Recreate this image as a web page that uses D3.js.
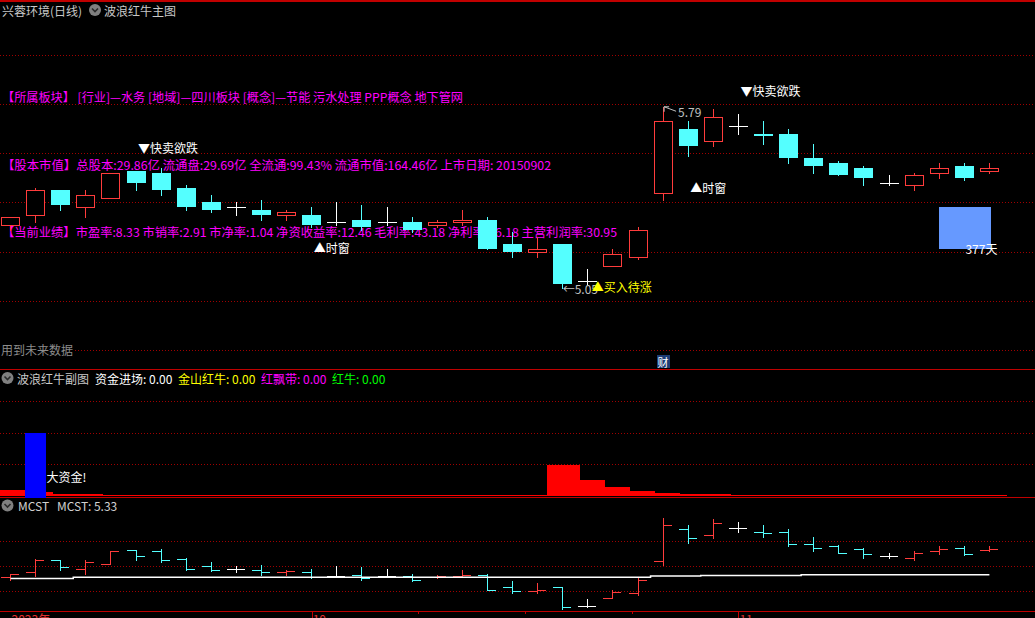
<!DOCTYPE html>
<html><head><meta charset="utf-8">
<script src="https://cdn.jsdelivr.net/npm/d3@7"></script>
<style>
html,body{margin:0;padding:0;background:#000;overflow:hidden}
svg{display:block}
text{font-family:"Noto Sans CJK SC","Noto Sans",sans-serif;font-size:12px}
</style></head><body>
<svg id="c" width="1035" height="618"></svg>
<script>
// ---- data ----
const opens  = [5.31,5.35,5.45,5.38,5.42,5.53,5.52,5.46,5.40,5.38,5.37,5.35,5.35,5.32,5.33,5.32,5.32,5.31,5.32,5.33,5.23,5.20,5.23,5.08,5.14,5.18,5.44,5.70,5.65,5.71,5.68,5.68,5.58,5.56,5.54,5.48,5.47,5.52,5.55,5.53];
const highs  = [5.34,5.46,5.45,5.45,5.52,5.53,5.54,5.47,5.43,5.40,5.41,5.37,5.38,5.40,5.39,5.38,5.34,5.33,5.37,5.34,5.28,5.26,5.23,5.13,5.21,5.30,5.79,5.73,5.78,5.76,5.73,5.70,5.64,5.57,5.55,5.51,5.52,5.56,5.56,5.56];
const lows   = [5.29,5.32,5.37,5.34,5.42,5.45,5.43,5.37,5.36,5.35,5.33,5.33,5.30,5.31,5.29,5.31,5.28,5.30,5.31,5.21,5.18,5.18,5.05,5.07,5.14,5.17,5.41,5.59,5.63,5.68,5.64,5.56,5.52,5.51,5.47,5.47,5.45,5.50,5.49,5.52];
const closes = [5.34,5.45,5.39,5.43,5.52,5.48,5.45,5.38,5.37,5.38,5.35,5.36,5.31,5.32,5.30,5.32,5.29,5.32,5.33,5.21,5.20,5.21,5.07,5.08,5.19,5.29,5.73,5.63,5.75,5.71,5.67,5.58,5.55,5.51,5.50,5.48,5.51,5.54,5.50,5.54];
const mcstLine = [5.30,5.30,5.30,5.31,5.31,5.31,5.31,5.31,5.31,5.31,5.31,5.31,5.31,5.31,5.31,5.31,5.31,5.31,5.31,5.31,5.31,5.31,5.31,5.31,5.31,5.31,5.32,5.32,5.325,5.325,5.325,5.325,5.33,5.33,5.33,5.33,5.33,5.33,5.33,5.33];
const fundRed  = [0.17,0.105,0.05,0.05,0,0,0,0,0,0,0,0,0,0,0,0,0,0,0,0,0,0,0.97,0.49,0.265,0.14,0.075,0.04,0.04,0,0,0,0,0,0,0,0,0,0,0];
const fundBlue = [0,2.0,0,0,0,0,0,0,0,0,0,0,0,0,0,0,0,0,0,0,0,0,0,0,0,0,0,0,0,0,0,0,0,0,0,0,0,0,0,0];
const priceTicks = [6.0,5.8,5.6,5.4,5.2,5.0,4.8];
const subTicks = [1,2,3];
const mcstTicks = [5.6,5.4,5.2];
const dateLabels = [{i:0,t:"2023年"},{i:12,t:"10"},{i:29,t:"11"}];
const sellIdx = [5,29];
const timeMarks = [{i:12,p:5.215},{i:27,p:5.463}];
const buyMark = {i:23,p:5.056};
const lowIdx = 22, highIdx = 26, caiIdx = 26;
const boxMark = {from:37,to:39,top:5.38,bottom:5.21,label:"377天"};
const infoLines = [
  "【所属板块】 [行业]—水务 [地域]—四川板块 [概念]—节能 污水处理 PPP概念 地下管网",
  "【股本市值】总股本:29.86亿 流通盘:29.69亿 全流通:99.43% 流通市值:164.46亿 上市日期: 20150902",
  "【当前业绩】市盈率:8.33 市销率:2.91 市净率:1.04 净资收益率:12.46 毛利率:43.18 净利率:26.18 主营利润率:30.95"
];
const infoPrices = [5.83, 5.556, 5.283];
const infoWidths = [461, 549, 615];

// ---- setup ----
const W = 1035;
const RED = "#ff3c3c", CYAN = "#54ffff", WHITE = "#ffffff", GRID = "#a00000", SEP = "#c00000";
const svg = d3.select("#c");
svg.append("rect").attr("width",W).attr("height",618).attr("fill","#000");
const idx = d3.range(opens.length);
const x = d3.scaleBand().domain(idx).range([-2.05, 1001.95]);
const cx = i => x(i) + x.bandwidth()/2;
const bx = i => Math.round(cx(i) - 9.5);
const yMain = d3.scaleLinear().domain([5.8, 5.0]).range([104.3, 300.7]);
const ySub = d3.scaleLinear().domain([0, 3]).range([495.3, 401.4]);
const yM = d3.scaleLinear().domain([5.8, 5.2]).range([516.8, 590.8]);
const R = v => Math.round(v);

// grids
function grid(vals, sc){
  svg.append("g").selectAll("line").data(vals).join("line")
    .attr("x1",0).attr("x2",W)
    .attr("y1",d=>R(sc(d))+0.5).attr("y2",d=>R(sc(d))+0.5)
    .attr("stroke",GRID).attr("stroke-dasharray","1,2");
}
grid(priceTicks, yMain); grid(subTicks, ySub); grid(mcstTicks, yM);

// separators
svg.append("rect").attr("x",0).attr("y",0).attr("width",W).attr("height",2).attr("fill",SEP);
[369.5, 497.5, 611.5].forEach(y=>svg.append("line").attr("x1",0).attr("x2",W).attr("y1",y).attr("y2",y).attr("stroke",SEP));

// title
function icon(cxp, cyp){
  svg.append("circle").attr("cx",cxp).attr("cy",cyp).attr("r",6).attr("fill","#808080");
  svg.append("path").attr("d",`M${cxp-3},${cyp-1.5}L${cxp},${cyp+1.5}L${cxp+3},${cyp-1.5}`).attr("fill","none").attr("stroke","#2a2a2a").attr("stroke-width",1.6);
}
svg.append("text").attr("x",2).attr("y",10).attr("dominant-baseline","central").attr("fill","#c8c8c8").text("兴蓉环境(日线)");
icon(95,10);
svg.append("text").attr("x",104).attr("y",10).attr("dominant-baseline","central").attr("fill","#c8c8c8").text("波浪红牛主图");

// info lines
svg.append("g").selectAll("text").data(infoLines).join("text")
  .attr("x",2).attr("y",(d,k)=>yMain(infoPrices[k])).attr("dominant-baseline","central")
  .attr("fill","#ff00ff").attr("textLength",(d,k)=>infoWidths[k]).attr("lengthAdjust","spacingAndGlyphs")
  .text(d=>d);

// candles
const candles = idx.map(i=>({i,o:opens[i],h:highs[i],l:lows[i],c:closes[i]}));
const col = d => d.c > d.o ? RED : (d.c < d.o ? CYAN : WHITE);
const cg = svg.append("g").attr("shape-rendering","crispEdges");
cg.selectAll("line.w").data(candles).join("line")
  .attr("x1",d=>bx(d.i)+9.5).attr("x2",d=>bx(d.i)+9.5)
  .attr("y1",d=>R(yMain(d.h))).attr("y2",d=>R(yMain(d.l))+1)
  .attr("stroke",col);
cg.selectAll("rect.up").data(candles.filter(d=>d.c>d.o)).join("rect")
  .attr("x",d=>bx(d.i)+0.5).attr("width",18)
  .attr("y",d=>R(yMain(d.c))+0.5).attr("height",d=>Math.max(1,R(yMain(d.o))-R(yMain(d.c))))
  .attr("fill","#000").attr("stroke",RED);
cg.selectAll("rect.dn").data(candles.filter(d=>d.c<d.o)).join("rect")
  .attr("x",d=>bx(d.i)).attr("width",19)
  .attr("y",d=>R(yMain(d.o))).attr("height",d=>Math.max(1,R(yMain(d.c))-R(yMain(d.o))))
  .attr("fill",CYAN);
cg.selectAll("line.dj").data(candles.filter(d=>d.c===d.o)).join("line")
  .attr("x1",d=>bx(d.i)).attr("x2",d=>bx(d.i)+19)
  .attr("y1",d=>R(yMain(d.o))+0.5).attr("y2",d=>R(yMain(d.o))+0.5)
  .attr("stroke",WHITE);

// annotations main
svg.append("g").selectAll("text").data(sellIdx).join("text")
  .attr("x",i=>cx(i)+2).attr("y",i=>yMain(highs[i])-18).attr("fill","#fff").text("▼快卖欲跌");
svg.append("g").selectAll("text").data(timeMarks).join("text")
  .attr("x",d=>cx(d.i)+2).attr("y",d=>yMain(d.p)).attr("dominant-baseline","central").attr("fill","#fff").text("▲时窗");
// low label
const yl = yMain(lows[lowIdx]);
svg.append("text").attr("x",cx(lowIdx)).attr("y",yl).attr("dominant-baseline","central").attr("fill","#c0c0c0")
  .text("←" + lows[lowIdx].toFixed(2));
svg.append("text").attr("x",cx(buyMark.i)+4).attr("y",yMain(buyMark.p)).attr("dominant-baseline","central")
  .attr("fill","#ffff00").text("▲买入待涨");
// high label
const hx = cx(highIdx)+1, hy = yMain(highs[highIdx]);
svg.append("path").attr("d",`M${hx},${hy}L${hx+12},${hy+4.5}M${hx},${hy}L${hx+5},${hy}M${hx},${hy}L${hx},${hy+5}`)
  .attr("stroke","#c0c0c0").attr("fill","none");
svg.append("text").attr("x",hx+14).attr("y",hy+4.5).attr("dominant-baseline","central").attr("fill","#c0c0c0")
  .text(highs[highIdx].toFixed(2));
// box
svg.append("rect").attr("x",R(cx(boxMark.from))).attr("y",R(yMain(boxMark.top)))
  .attr("width",R(cx(boxMark.to)+2)-R(cx(boxMark.from))).attr("height",R(yMain(boxMark.bottom))-R(yMain(boxMark.top)))
  .attr("fill","#6699ff");
svg.append("text").attr("x",cx(boxMark.to)+8).attr("y",yMain(boxMark.bottom)-1).attr("dominant-baseline","central")
  .attr("text-anchor","end").attr("fill","#fff").text(boxMark.label);
// future-data note (black backing hides the dotted grid behind it)
svg.append("rect").attr("x",0).attr("y",342).attr("width",74).attr("height",14).attr("fill","#000");
svg.append("text").attr("x",1).attr("y",349).attr("dominant-baseline","central").attr("fill","#8c8c8c").text("用到未来数据");
// 财 icon
svg.append("rect").attr("x",R(cx(caiIdx))-6).attr("y",355).attr("width",13).attr("height",13).attr("fill","#1c3c74");
svg.append("text").attr("x",cx(caiIdx)).attr("y",362).attr("dominant-baseline","central").attr("text-anchor","middle")
  .attr("fill","#fff").style("font-size","11px").text("财");

// ---- sub panel ----
icon(7.5,378);
const sh = [
  {t:"波浪红牛副图",x:17,c:"#c8c8c8"},
  {t:"资金进场: 0.00",x:95,c:"#ffffff"},
  {t:"金山红牛: 0.00",x:178,c:"#ffff00"},
  {t:"红飘带: 0.00",x:261,c:"#ff00ff"},
  {t:"红牛: 0.00",x:332,c:"#00ff00"}
];
svg.append("g").selectAll("text").data(sh).join("text").attr("x",d=>d.x).attr("y",378)
  .attr("dominant-baseline","central").attr("fill",d=>d.c).text(d=>d.t);
const sg = svg.append("g").attr("shape-rendering","crispEdges");
sg.selectAll("rect.r").data(idx).join("rect")
  .attr("x",i=>cx(i)-15.7).attr("width",33)
  .attr("y",i=>Math.min(495,R(ySub(fundRed[i])))).attr("height",i=>496-Math.min(495,R(ySub(fundRed[i]))))
  .attr("fill","#ff0000");
sg.selectAll("rect.b").data(idx.filter(i=>fundBlue[i]>0)).join("rect")
  .attr("x",i=>cx(i)-10.5).attr("width",21)
  .attr("y",i=>R(ySub(fundBlue[i]))).attr("height",i=>498-R(ySub(fundBlue[i])))
  .attr("fill","#0000ff");
svg.append("text").attr("x",cx(1)+11).attr("y",ySub(0.6)).attr("dominant-baseline","central").attr("fill","#fff").text("大资金!");

// ---- MCST panel ----
icon(7.5,505.5);
svg.append("text").attr("x",18).attr("y",505.5).attr("dominant-baseline","central").attr("fill","#d0d0d0").text("MCST");
svg.append("text").attr("x",57).attr("y",505.5).attr("dominant-baseline","central").attr("fill","#d0d0d0")
  .text("MCST: " + mcstLine[mcstLine.length-1].toFixed(2));
const mg = svg.append("g").attr("shape-rendering","crispEdges");
mg.selectAll("line.v").data(candles).join("line")
  .attr("x1",d=>bx(d.i)+9.5).attr("x2",d=>bx(d.i)+9.5)
  .attr("y1",d=>R(yM(d.h))).attr("y2",d=>R(yM(d.l))+1).attr("stroke",col);
mg.selectAll("line.o").data(candles).join("line")
  .attr("x1",d=>bx(d.i)).attr("x2",d=>bx(d.i)+10)
  .attr("y1",d=>R(yM(d.o))+0.5).attr("y2",d=>R(yM(d.o))+0.5).attr("stroke",col);
mg.selectAll("line.c").data(candles).join("line")
  .attr("x1",d=>bx(d.i)+9).attr("x2",d=>bx(d.i)+18)
  .attr("y1",d=>R(yM(d.c))+0.5).attr("y2",d=>R(yM(d.c))+0.5).attr("stroke",col);
svg.append("path").datum(idx)
  .attr("d",d3.line().curve(d3.curveStep).x(i=>cx(i)).y(i=>yM(mcstLine[i])))
  .attr("fill","none").attr("stroke","#fff").attr("stroke-width",1.5);

// ---- date axis ----
const xa = cx(dateLabels[1].i), xb = cx(dateLabels[2].i);
const tg = svg.append("g").attr("shape-rendering","crispEdges");
d3.range(0,5).forEach(k=>{
  const xx = R(xa + (xb-xa)*k/4)+0.5;
  tg.append("line").attr("x1",xx).attr("x2",xx).attr("y1",612).attr("y2",(k===0||k===4)?618:614).attr("stroke",SEP);
});
svg.append("g").selectAll("text").data(dateLabels).join("text")
  .attr("x",d=>cx(d.i)+1).attr("y",624).attr("fill","#e03030").text(d=>d.t);
</script>
</body></html>
